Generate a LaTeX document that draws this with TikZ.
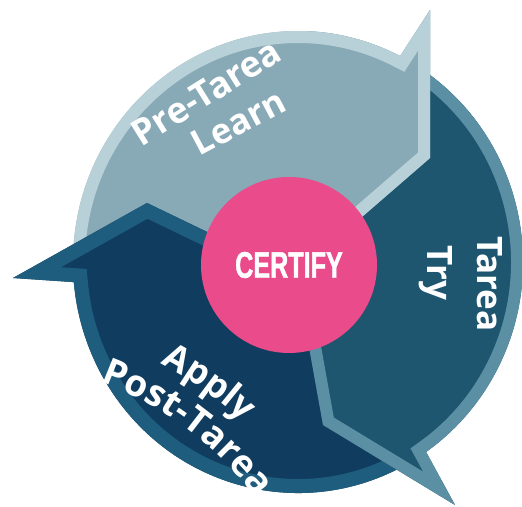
\documentclass[tikz,border=0pt]{standalone}
\usepackage{fontspec}
\setmainfont{Open Sans}
\newfontfamily\certfont[FakeStretch=0.68, FakeBold=1.2]{Liberation Sans Bold}
\usetikzlibrary{decorations.text}
\definecolor{lightfill}{HTML}{88A9B6}
\definecolor{lightrim}{HTML}{B8D1D9}
\definecolor{tryfill}{HTML}{1E556F}
\definecolor{tryrim}{HTML}{5B8FA4}
\definecolor{applyfill}{HTML}{0F3C5F}
\definecolor{applyrim}{HTML}{1F5D7E}
\definecolor{certpink}{HTML}{E94B8B}
\tikzset{
  lbl/.style={text=white, font=\bfseries\fontsize{35}{42}\selectfont, inner sep=0pt, anchor=base},
  rimline/.style={line width=#1, line join=miter},
}
\begin{document}
\begin{tikzpicture}[x=1pt, y=-1pt]
\useasboundingbox (0,0) rectangle (522,506);
\def\lightshape{(298,262) -- (73,262) arc[start angle=180, end angle=297, x radius=225, y radius=231] -- (430,10) -- (430,158) -- (340,236) -- cycle}
\def\tryshape{(298,262) -- (410.5,62) arc[start angle=300, end angle=415.3, x radius=225, y radius=231] -- (455,505) -- (323,425) -- (305,325) -- cycle}
\def\applyshape{(298,262) -- (417.2,457.9) arc[start angle=58, end angle=175, x radius=225, y radius=231] -- (13,278) -- (147,203) -- (230,243) -- cycle}
% light segment
\fill[lightfill] \lightshape;
\begin{scope}
  \clip \lightshape;
  \draw[lightrim, rimline=24pt] \lightshape;
\end{scope}
% apply segment
\fill[applyfill] \applyshape;
\begin{scope}
  \clip \applyshape;
  \draw[applyrim, rimline=28pt] \applyshape;
\end{scope}
% try segment
\fill[tryfill] \tryshape;
\begin{scope}
  \clip \tryshape;
  \draw[tryrim, rimline=24pt] \tryshape;
\end{scope}
% light head on top of try tail
\begin{scope}
  \clip (300,0) rectangle (522,262);
  \fill[lightfill] \lightshape;
  \clip \lightshape;
  \draw[lightrim, rimline=24pt] \lightshape;
\end{scope}
% centre
\node[circle, fill=certpink, minimum size=176pt, inner sep=0pt, text=white,
      font=\certfont\fontsize{37}{42}\selectfont] (certify) at (289,265) {CERTIFY};
% labels
\node[lbl, rotate=32, font=\bfseries\fontsize{36}{43}\selectfont] (pre) at (213,103) {Pre-Tarea};
\node[lbl, rotate=28] (learn) at (244,133) {Learn};
\node[lbl, rotate=-90] (tarea) at (477,284) {Tarea};
\node[lbl, rotate=-90] (try) at (427,273) {Try};
\path[decorate, decoration={text along path, text align=center, text color=white,
      text={|\bfseries\fontsize{36}{43}\selectfont|Apply}}]
  (-14.7,697.4) ++(-70.6:377) arc[start angle=-70.6, end angle=-38.6, radius=377];
\path[decorate, decoration={text along path, text align=center, text color=white,
      text={|\bfseries\fontsize{37}{44}\selectfont|Post-Tarea}}]
  (-14.7,697.4) ++(-80.2:336) arc[start angle=-80.2, end angle=-26.2, radius=336];
\end{tikzpicture}
\end{document}
